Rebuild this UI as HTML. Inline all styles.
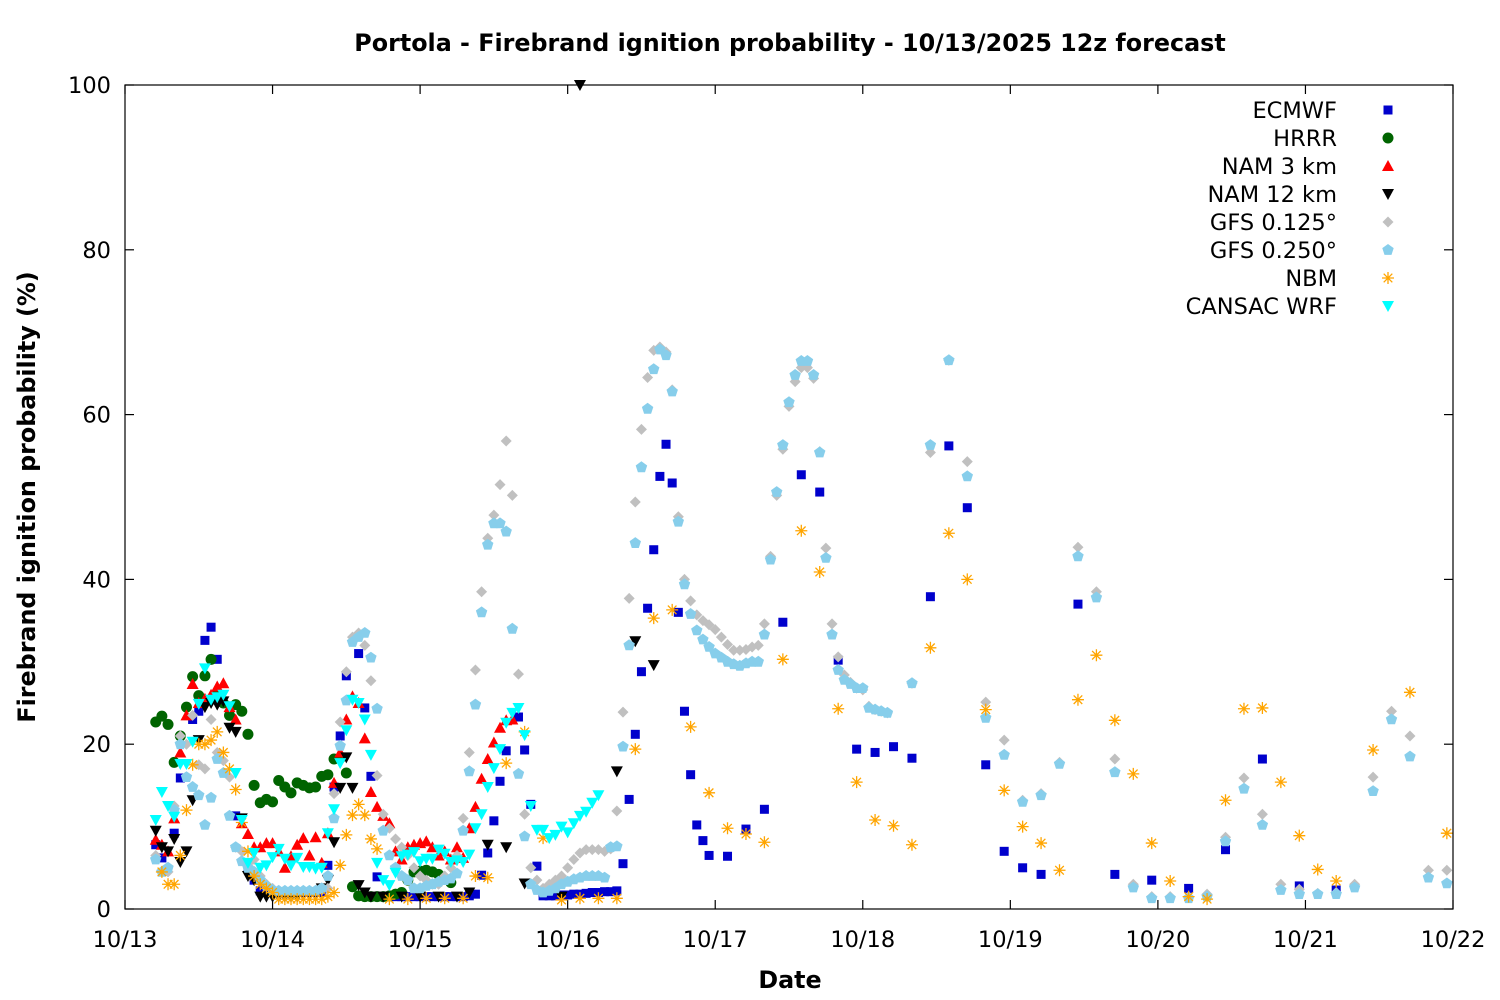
<!DOCTYPE html>
<html><head><meta charset="utf-8"><style>
html,body{margin:0;padding:0;background:#fff;width:1500px;height:1000px;overflow:hidden}
svg text{font-family:"DejaVu Sans","Liberation Sans",sans-serif}
</style></head><body>
<svg id="chart" width="1500" height="1000" xmlns="http://www.w3.org/2000/svg">
<rect x="0" y="0" width="1500" height="1000" fill="#fff"/>
<text x="790" y="51" font-size="23.8" font-weight="bold" text-anchor="middle">Portola - Firebrand ignition probability - 10/13/2025 12z forecast</text>
<text x="790" y="988" font-size="23.8" font-weight="bold" text-anchor="middle">Date</text>
<text transform="translate(35,497) rotate(-90)" font-size="23.8" font-weight="bold" text-anchor="middle">Firebrand ignition probability (%)</text>
<g id="axes"></g>
<g id="marks"></g>
<g id="legend"></g>
<rect x="125" y="85" width="1328" height="824" fill="none" stroke="#000" stroke-width="1.2"/>
</svg>
<script>
const xTickLabels=["10/13","10/14","10/15","10/16","10/17","10/18","10/19","10/20","10/21","10/22"];
const yTickValues=[0,20,40,60,80,100];
const seriesNames=["ECMWF","HRRR","NAM 3 km","NAM 12 km","GFS 0.125°","GFS 0.250°","NBM","CANSAC WRF"];

const ecmwfHours=[5,6,8,9,11,12,13,14,15,18,20,21,22,23,24,25,26,27,28,29,30,31,32,33,34,35,36,38,39,40,41,42,43,44,45,46,47,48,49,50,51,52,53,54,55,56,57,58,59,60,61,62,64,65,66,67,68,69,70,71,72,73,74,75,76,77,78,79,80,81,82,83,84,85,86,87,88,89,90,91,92,93,94,95,98,101,104,107,110,113,116,119,122,125,128,131,134,137,140,143,146,149,155,161,167,173,179,185,191,197];
const ecmwfValues=[7.8,6.2,9.2,15.9,23,24,32.6,34.2,30.3,11.3,5,3.5,2.2,2,2,2,2,2,2,2,2,2,2,5.3,14.8,21,28.3,31,24.4,16.1,3.9,1.5,1.5,1.5,1.5,1.5,1.5,1.5,1.5,1.5,1.5,1.5,1.5,1.5,1.5,1.6,1.8,4.1,6.8,10.7,15.5,19.2,23.3,19.3,12.7,5.2,1.6,1.6,1.6,1.7,1.7,1.8,1.8,1.9,2,2,2.1,2.1,2.2,5.5,13.3,21.2,28.8,36.5,43.6,52.5,56.4,51.7,36,24,16.3,10.2,8.3,6.5,6.4,9.7,12.1,34.8,52.7,50.6,30.2,19.4,19,19.7,18.3,37.9,56.2,48.7,17.5,7,5,4.2,37,4.2,3.5,2.5,7.2,18.2,2.8,2.3];

const hrrrHours=[5,6,7,8,9,10,11,12,13,14,15,16,17,18,19,20,21,22,23,24,25,26,27,28,29,30,31,32,33,34,35,36,37,38,39,40,41,42,43,44,45,46,47,48,49,50,51,52,53];
const hrrrValues=[22.7,23.4,22.4,17.8,21,24.5,28.2,25.9,28.3,30.3,26,25,23.5,24.8,24,21.2,15,12.9,13.3,13,15.6,14.8,14.1,15.3,15,14.7,14.8,16.1,16.3,18.2,18.3,16.5,2.7,1.6,1.5,1.5,1.5,1.5,1.6,1.8,2,3.5,4.5,4.6,4.7,4.5,4.2,3.6,3.2];

const nam3Hours=[5,6,7,8,9,10,11,12,13,14,15,16,17,18,19,20,21,22,23,24,25,26,27,28,29,30,31,32,33,34,35,36,37,38,39,40,41,42,43,44,45,46,47,48,49,50,51,52,53,54,55,56,57,58,59,60,61,62,63];
const nam3Values=[8.4,7.8,7,11,19,23.5,27.3,25,25.5,26,27,27.4,24.5,23,10.4,9.1,7.5,7.5,8,8,7,5,6.4,7.8,8.6,6.5,8.7,5.6,9.2,15.3,19,23,25.8,25,20.7,14.2,12.4,11.3,10.4,7,6,7.5,7.8,8,8.2,7.5,6.5,7,6,7.5,6.2,9.8,12.4,15.8,18.2,20.2,22,22.9,23];

const nam12Hours=[5,6,7,8,9,10,11,12,13,14,15,16,17,18,19,20,21,22,23,24,25,26,27,28,29,30,31,32,33,34,35,36,37,38,39,40,42,45,48,51,54,56,59,62,65,71,74,80,83,86];
const nam12Values=[9.5,7.5,7,8.5,5.7,7,13.2,20.5,24.5,25,24.8,25.2,22,21.5,11,4,3.5,1.5,1.5,1.5,1.5,1.5,1.5,1.5,2,2,2,2.5,3.5,8.1,14.7,18.4,14.7,2.9,2,1.5,1.5,1.5,1.5,1.5,1.5,2,7.8,7.5,3.1,1.5,100,16.7,32.5,29.6];

const gfs125Hours=[5,6,7,8,9,10,11,12,13,14,15,16,17,18,19,20,21,22,23,24,25,26,27,28,29,30,31,32,33,34,35,36,37,38,39,40,41,42,43,44,45,46,47,48,49,50,51,52,53,54,55,56,57,58,59,60,61,62,63,64,65,66,67,68,69,70,71,72,73,74,75,76,77,78,79,80,81,82,83,84,85,86,87,88,89,90,91,92,93,94,95,96,97,98,99,100,101,102,103,104,105,106,107,108,109,110,111,112,113,114,115,116,117,118,119,120,121,122,123,124,128,131,134,137,140,143,146,149,152,155,158,161,164,167,170,173,176,179,182,185,188,191,194,197,200,203,206,209,212,215];
const gfs125Values=[6.5,4.5,4.5,12.5,21,20,23.5,17.5,17,23,19,18,16,7.5,7,5.5,6,4,3,2.5,2.2,2.2,2.2,2.2,2.2,2.2,2.2,2.3,2.5,14,22.7,28.8,33,33.5,32,27.7,16.2,11.5,9.8,8.5,7.5,6.5,5,4,3.5,3,3,4,5,6.5,11,19,29,38.5,45,47.8,51.5,56.8,50.2,28.5,11.5,5,3.5,2.5,3,3.5,4,5,6,6.8,7.2,7.2,7.2,7,7.3,11.9,23.9,37.7,49.4,58.2,64.5,67.8,68.2,67.6,63,47.6,40,37.4,35.7,35,34.5,33.9,33,32.1,31.4,31.4,31.5,31.8,32,34.6,42.8,50.2,55.8,61,64,65.7,65.7,64.4,55.5,43.8,34.6,30.6,28.4,27.5,26.8,26.6,24.6,24.2,24,23.8,27.4,55.4,66.6,54.3,25.1,20.5,13.2,14,17.8,43.9,38.5,18.2,3,1.5,1.5,1.5,1.8,8.7,15.9,11.5,3,2.4,1.9,2,3,16,24,21,4.7,4.7];

const gfs250Hours=[5,6,7,8,9,10,11,12,13,14,15,16,17,18,19,20,21,22,23,24,25,26,27,28,29,30,31,32,33,34,35,36,37,38,39,40,41,42,43,44,45,46,47,48,49,50,51,52,53,54,55,56,57,58,59,60,61,62,63,64,65,66,67,68,69,70,71,72,73,74,75,76,77,78,79,80,81,82,83,84,85,86,87,88,89,90,91,92,93,94,95,96,97,98,99,100,101,102,103,104,105,106,107,108,109,110,111,112,113,114,115,116,117,118,119,120,121,122,123,124,128,131,134,137,140,143,146,149,152,155,158,161,164,167,170,173,176,179,182,185,188,191,194,197,200,203,206,209,212,215];
const gfs250Values=[6,4.5,5,12,20,16,14.8,13.8,10.2,13.5,18.2,16.5,11.3,7.5,5.8,5,4.5,3.5,2.8,2.3,2.2,2.2,2.2,2.2,2.2,2.2,2.2,2.5,4,11,19.8,25.3,32.4,33,33.5,30.5,24.3,9.5,6.5,5,4,3.5,2.5,2.5,2.8,3,3.3,3.5,3.7,4.3,9.5,16.7,24.8,36,44.2,46.8,46.8,45.8,34,16.4,8.8,3,2.3,2,2.2,2.5,3,3.3,3.6,3.8,4,4,4,3.8,7.5,7.6,19.7,32,44.4,53.6,60.7,65.5,67.9,67.2,62.8,47,39.4,35.8,33.8,32.7,31.8,31,30.5,30,29.7,29.5,29.8,30,30,33.3,42.4,50.6,56.3,61.5,64.8,66.5,66.5,64.8,55.4,42.6,33.3,29,27.8,27.3,26.8,26.8,24.4,24.2,24,23.8,27.4,56.3,66.6,52.5,23.2,18.7,13,13.8,17.6,42.8,37.8,16.6,2.6,1.3,1.3,1.3,1.5,8.2,14.6,10.2,2.3,1.8,1.8,1.8,2.6,14.3,23,18.5,3.8,3.1];

const nbmHours=[6,7,8,9,10,11,12,13,14,15,16,17,18,19,20,21,22,23,24,25,26,27,28,29,30,31,32,33,34,35,36,37,38,39,40,41,43,46,49,52,55,57,59,62,65,68,71,74,77,80,83,86,89,92,95,98,101,104,107,110,113,116,119,122,125,128,131,134,137,140,143,146,149,152,155,158,161,164,167,170,173,176,179,182,185,188,191,194,197,203,209,215];
const nbmValues=[4.5,3,3,6.5,12,17.5,20,20,20.5,21.5,19,17,14.5,10.5,7,4,3,2.5,2,1.2,1.2,1.2,1.2,1.2,1.2,1.2,1.2,1.5,2,5.3,9,11.4,12.7,11.4,8.5,7.3,1.2,1.2,1.3,1.3,1.3,4,3.8,17.7,21.5,8.6,1.1,1.3,1.3,1.3,19.4,35.3,36.3,22.1,14.1,9.8,9.1,8.1,30.3,45.9,40.9,24.3,15.4,10.8,10.1,7.8,31.7,45.6,40,24.2,14.4,10,8,4.7,25.4,30.8,22.9,16.4,8,3.4,1.5,1.2,13.2,24.3,24.4,15.4,8.9,4.8,3.4,19.3,26.3,9.2];

const cansacHours=[5,6,7,8,9,10,11,12,13,14,15,16,17,18,19,20,21,22,23,24,25,26,27,28,29,30,31,32,33,34,35,36,37,38,39,40,41,42,43,44,45,46,47,48,49,50,51,52,53,54,55,56,57,58,59,60,61,62,63,64,65,66,67,68,69,70,71,72,73,74,75,76,77];
const cansacValues=[10.8,14.2,12.5,11.2,17.6,17.6,20.3,24.9,29.2,25.4,25.7,26,24.6,16.5,10.8,5.6,6.8,5,5.3,6.3,7.3,6.1,5.3,6.2,5.1,5.1,4.9,5,9.2,12.1,17.7,21.7,25.4,25,23,18.7,5.6,3.5,2.9,4.4,6.4,6.6,6.9,5.8,6.1,6.1,7.2,6.7,5.7,5.9,5.7,6.6,9.8,11.5,14.8,17.1,19.4,22.6,23.8,24.4,21.1,12.5,9.6,9.6,8.6,9,10,9.3,10.4,11.3,11.8,12.9,13.8];

const NS="http://www.w3.org/2000/svg";
const X0=125,X1=1453,Y0=909,Y1=85,HOURS=216;
function xScale(h){return X0+(X1-X0)*h/HOURS;}
function yScale(v){return Y0-(Y0-Y1)*v/100;}
function mk(tag,attrs,parent){const e=document.createElementNS(NS,tag);for(const k in attrs)e.setAttribute(k,attrs[k]);parent.appendChild(e);return e;}

const axes=document.getElementById('axes');
xTickLabels.forEach((lab,i)=>{
  const x=xScale(i*24);
  const t1=mk('line',{x1:x,y1:Y0,x2:x,y2:Y0-9,stroke:'#000','stroke-width':1.2},axes);
  
  
  const t2=mk('line',{x1:x,y1:Y1,x2:x,y2:Y1+9,stroke:'#000','stroke-width':1.2},axes);
  
  
  const tx=mk('text',{x:x,y:947,'font-size':22.5,'text-anchor':'middle'},axes);
  tx.textContent=lab;
  
  
});
yTickValues.forEach(v=>{
  const y=yScale(v);
  const t1=mk('line',{x1:X0,y1:y,x2:X0+9,y2:y,stroke:'#000','stroke-width':1.2},axes);
  
  
  const t2=mk('line',{x1:X1,y1:y,x2:X1-9,y2:y,stroke:'#000','stroke-width':1.2},axes);
  
  
  const tx=mk('text',{x:111,y:y+8,'font-size':22.5,'text-anchor':'end'},axes);
  tx.textContent=String(v);
  
  
});

function marker(kind,x,y,parent){
  let e;
  if(kind==0){e=mk('rect',{x:x-4.5,y:y-4.5,width:9,height:9,fill:'#0000cc'},parent);}
  else if(kind==1){e=mk('circle',{cx:x,cy:y,r:5.5,fill:'#006400'},parent);}
  else if(kind==2){e=mk('polygon',{points:`${x},${y-6} ${x+6},${y+5} ${x-6},${y+5}`,fill:'#ff0000'},parent);}
  else if(kind==3){e=mk('polygon',{points:`${x-6},${y-5} ${x+6},${y-5} ${x},${y+6}`,fill:'#000000'},parent);}
  else if(kind==4){e=mk('polygon',{points:`${x},${y-5.5} ${x+5.5},${y} ${x},${y+5.5} ${x-5.5},${y}`,fill:'#c0c0c0'},parent);}
  else if(kind==5){let p=[];for(let i=0;i<5;i++){const a=-Math.PI/2+i*2*Math.PI/5;p.push((x+6*Math.cos(a)).toFixed(1)+','+(y+6*Math.sin(a)).toFixed(1));}e=mk('polygon',{points:p.join(' '),fill:'#87ceeb'},parent);}
  else if(kind==6){e=mk('path',{d:`M${x-6},${y}H${x+6}M${x},${y-6}V${y+6}M${x-4.3},${y-4.3}L${x+4.3},${y+4.3}M${x-4.3},${y+4.3}L${x+4.3},${y-4.3}`,stroke:'#ffa500','stroke-width':1.3,fill:'none'},parent);}
  else {e=mk('polygon',{points:`${x-6},${y-5} ${x+6},${y-5} ${x},${y+6}`,fill:'#00ffff'},parent);}
  return e;
}
const seriesHours=[ecmwfHours,hrrrHours,nam3Hours,nam12Hours,gfs125Hours,gfs250Hours,nbmHours,cansacHours];
const seriesValues=[ecmwfValues,hrrrValues,nam3Values,nam12Values,gfs125Values,gfs250Values,nbmValues,cansacValues];
const seriesKeys=['ecmwf','hrrr','nam-3km','nam-12km','gfs-0125','gfs-0250','nbm','cansac-wrf'];
const marks=document.getElementById('marks');
seriesHours.forEach((hs,s)=>{
  const g=mk('g',{},marks);
  
  
  hs.forEach((h,i)=>{
    const v=seriesValues[s][i];
    const e=marker(s,xScale(h),yScale(v),g);
    
    
  });
});
const legend=document.getElementById('legend');


seriesNames.forEach((n,i)=>{
  const y=110+i*28;
  const g=mk('g',{},legend);
  
  
  const t=mk('text',{x:1337,y:y+8,'font-size':22.5,'text-anchor':'end'},g);
  t.textContent=n;
  marker(i,1388,y,g);
});
</script>
</body></html>
